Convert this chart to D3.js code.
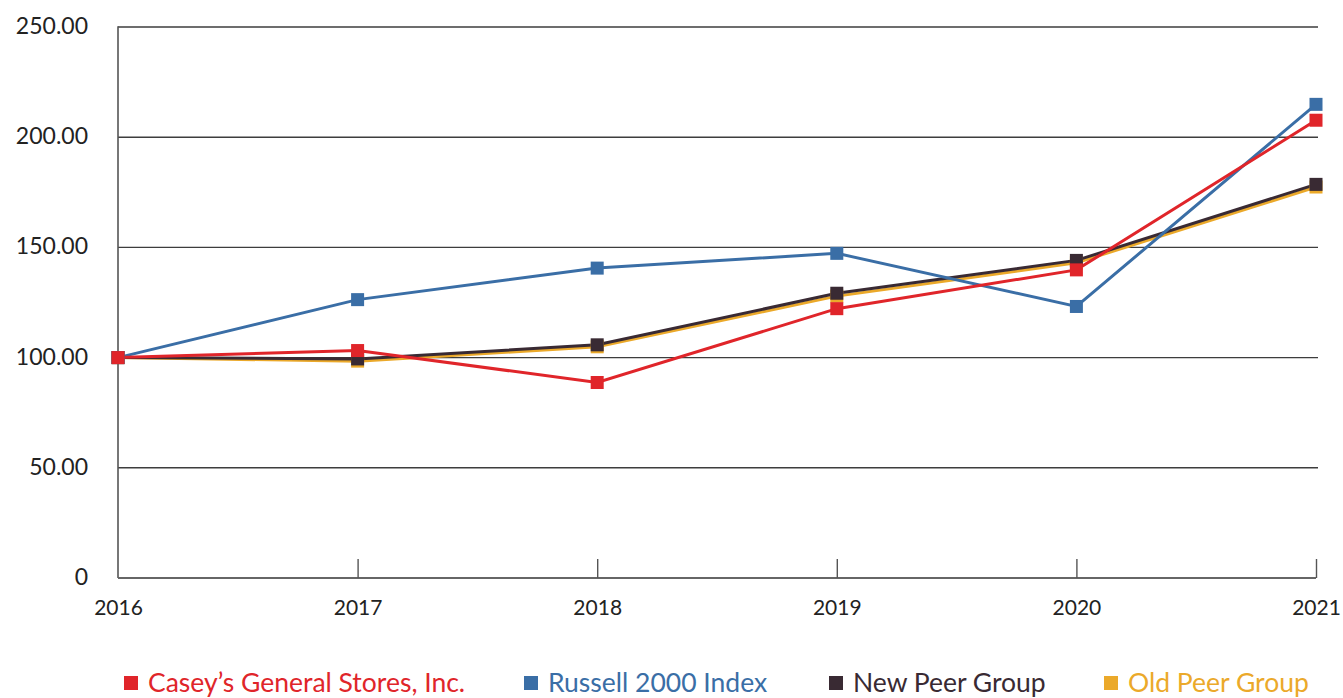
<!DOCTYPE html>
<meta charset="utf-8">
<style>
  body { margin: 0; background: #fff; }
  text { font-family: Lato, "Open Sans", sans-serif; }
</style>
<svg width="1343" height="698"></svg>
<script src="https://cdn.jsdelivr.net/npm/d3@7"></script>
<script>

var years = [2016, 2017, 2018, 2019, 2020, 2021];
var yTicks = [0, 50, 100, 150, 200, 250];

var caseys  = [100, 103.2, 88.7, 122.2, 139.8, 207.7];
var russell = [100, 126.3, 140.6, 147.3, 123.2, 214.9];
var newPeer = [100, 99.4, 105.8, 129.2, 144.1, 178.6];
var oldPeer = [100, 98.4, 104.9, 127.9, 143.0, 177.4];

var seriesNames = ["Casey\u2019s General Stores, Inc.", "Russell 2000 Index", "New Peer Group", "Old Peer Group"];
var seriesColors = ["#e0252a", "#3a6ea6", "#392a33", "#eba92a"];
var seriesValues = [caseys, russell, newPeer, oldPeer];

var svg = d3.select("svg"),
    plotL = 118, plotR = 1316, plotT = 27, plotB = 578;

var x = d3.scalePoint().domain(years).range([plotL, plotR]);
var y = d3.scaleLinear().domain([0, 250]).range([plotB, plotT]);

// gridlines
svg.append("g")
  .selectAll("line")
  .data(yTicks.slice(1))
  .enter().append("line")
    .attr("x1", plotL).attr("x2", plotR + 2)
    .attr("y1", function(d) { return y(d); })
    .attr("y2", function(d) { return y(d); })
    .attr("stroke", "#3d3d3d")
    .attr("stroke-width", 1.4);

// left axis line
svg.append("line")
  .attr("x1", plotL).attr("x2", plotL)
  .attr("y1", plotT - 0.7).attr("y2", plotB)
  .attr("stroke", "#555").attr("stroke-width", 1.6);

// bottom axis with inward ticks
var xAxis = d3.axisBottom(x).tickSize(-19).tickPadding(22).tickFormat(d3.format("d"));
var gx = svg.append("g").attr("transform", "translate(0," + plotB + ")").call(xAxis);
gx.select(".domain").attr("d", "M" + plotL + ",0H" + plotR).attr("stroke", "#666").attr("stroke-width", 2);
gx.selectAll(".tick line").attr("stroke", "#555").attr("stroke-width", 1.4);
gx.selectAll(".tick text").attr("font-size", 21).attr("fill", "#222");
gx.selectAll(".tick").filter(function(d) { return d === 2016; }).select("line").remove();

// y labels
var yAxis = d3.axisLeft(y).tickValues(yTicks).tickSize(0).tickPadding(30)
  .tickFormat(function(d) { return d === 0 ? "0" : d3.format(".2f")(d); });
var gy = svg.append("g").attr("transform", "translate(" + plotL + ",0)").call(yAxis);
gy.select(".domain").remove();
gy.selectAll(".tick text").attr("font-size", 23).attr("fill", "#222").attr("dy", "0.28em");

// lines (back to front)
var line = d3.line().x(function(d, i) { return x(years[i]); }).y(function(d) { return y(d); });
var order = [3, 2, 1, 0];

order.forEach(function(k) {
  svg.append("path")
    .datum(seriesValues[k])
    .attr("d", line)
    .attr("fill", "none")
    .attr("stroke", seriesColors[k])
    .attr("stroke-width", 3);
});

var m = 13;
order.forEach(function(k) {
  svg.append("g")
    .selectAll("rect")
    .data(seriesValues[k])
    .enter().append("rect")
      .attr("x", function(d, i) { return x(years[i]) - m / 2; })
      .attr("y", function(d) { return y(d) - m / 2; })
      .attr("width", m).attr("height", m)
      .attr("fill", seriesColors[k]);
});

// legend
var legendX = [124, 524, 829, 1104];
var legend = svg.append("g")
  .selectAll("g")
  .data(seriesNames)
  .enter().append("g")
    .attr("transform", function(d, i) { return "translate(" + legendX[i] + ",676)"; });

legend.append("rect")
  .attr("width", 14).attr("height", 14)
  .attr("fill", function(d, i) { return seriesColors[i]; });

legend.append("text")
  .attr("x", 24).attr("y", 16)
  .attr("font-size", 26.5)
  .attr("fill", function(d, i) { return seriesColors[i]; })
  .text(function(d) { return d; });

</script>
